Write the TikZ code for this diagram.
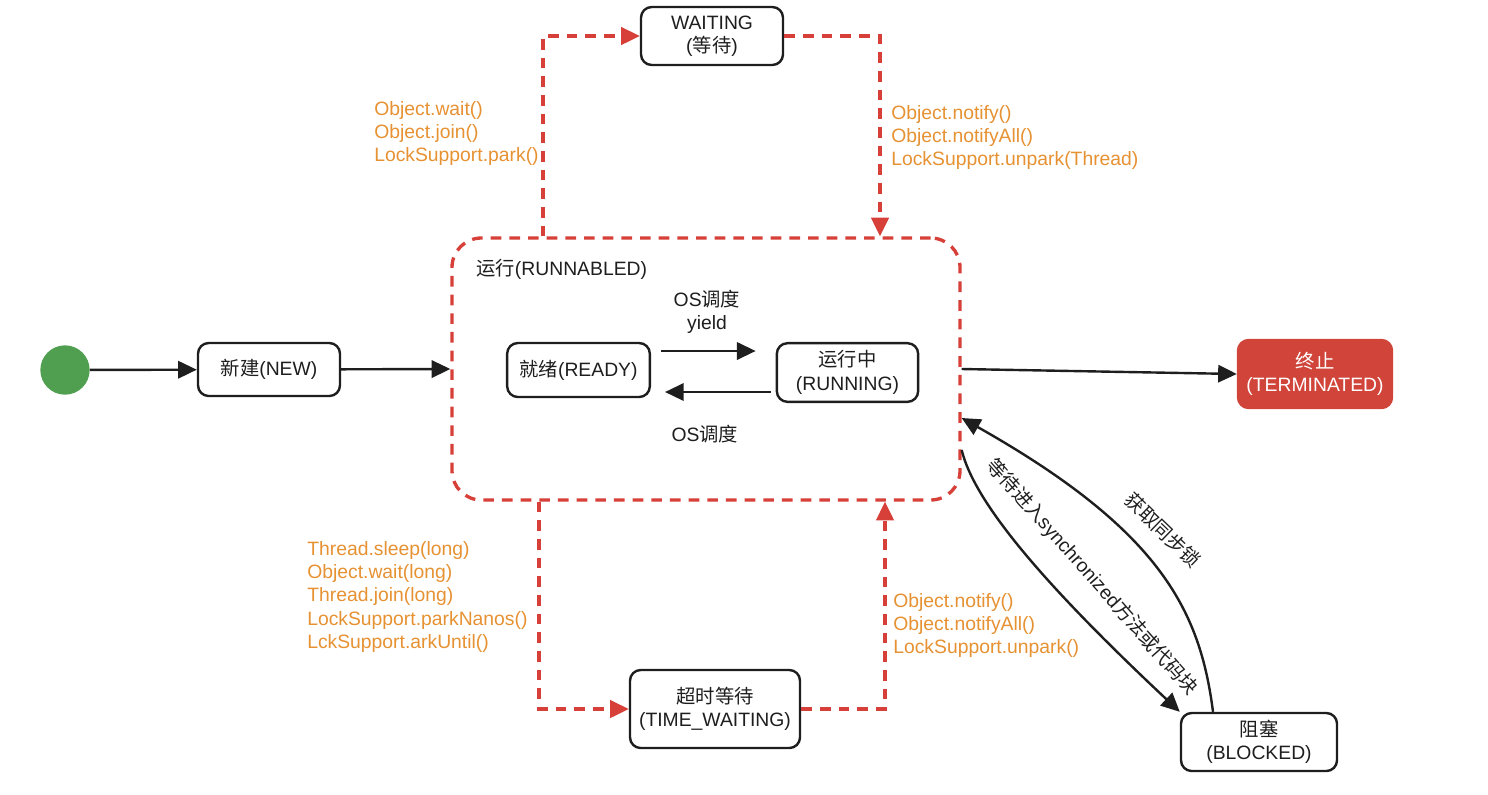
\documentclass[tikz,border=0pt]{standalone}
\usepackage{fontspec}
\setmainfont{Liberation Sans}
\newfontfamily\cjk{Noto Sans CJK SC}
\newcommand\zh[1]{{\cjk #1}}
\usetikzlibrary{arrows.meta,calc}
\definecolor{jred}{RGB}{214,64,56}
\definecolor{jorange}{RGB}{230,145,50}
\definecolor{jgreen}{RGB}{80,158,80}
\definecolor{jterm}{RGB}{208,68,58}
\definecolor{jink}{RGB}{30,30,30}
\begin{document}
\begin{tikzpicture}[x=0.75pt,y=-0.75pt,
  every node/.style={font=\fontsize{14.5}{17.5}\selectfont, text=jink},
  state/.style={draw=jink, line width=1.8pt, rounded corners=8pt, align=center, inner sep=0pt},
  arr/.style={line width=1.8pt, draw=jink, -{Triangle[length=14pt,width=13pt]}},
  redarr/.style={line width=2.5pt, draw=jred, dash pattern=on 8pt off 6pt, -{Triangle[length=14pt,width=13pt,fill=jred]}},
  codelbl/.style={text=jorange, align=left, anchor=north west, inner sep=0pt},
  lbl/.style={align=center, inner sep=0pt}]
\useasboundingbox (0,0) rectangle (1488,794);

\node[circle, fill=jgreen, minimum size=37pt, inner sep=0pt] (start) at (65,370) {};
\node[state, minimum width=106.5pt, minimum height=39.75pt] (new) at (269,369.5) {\zh{新建}(NEW)};
\node[draw=jred, dash pattern=on 8pt off 6pt, line width=2.5pt, rounded corners=22pt,
      minimum width=381pt, minimum height=196.5pt, inner sep=0pt] (run) at (706,369) {};
\node[anchor=west, inner sep=0pt] (runlbl) at (476,269) {\zh{运行}(RUNNABLED)};
\node[state, minimum width=107pt, minimum height=40.5pt] (ready) at (578.5,370) {\zh{就绪}(READY)};
\node[state, minimum width=106pt, minimum height=44pt] (running) at (847.5,372.5) {\zh{运行中}\\(RUNNING)};
\node[state, fill=jterm, draw=jterm, text=white, minimum width=115.5pt, minimum height=51pt] (term) at (1315,374) {\zh{终止}\\(TERMINATED)};
\node[state, minimum width=106.5pt, minimum height=43.5pt] (wait) at (712,36) {WAITING\\(\zh{等待})};
\node[state, minimum width=127.5pt, minimum height=58.5pt] (tw) at (715,709) {\zh{超时等待}\\(TIME\_WAITING)};
\node[state, minimum width=117pt, minimum height=43.5pt] (blocked) at (1259,742) {\zh{阻塞}\\(BLOCKED)};

\node[lbl] (l1) at (707,312) {OS\zh{调度}\\yield};
\node[lbl] (l2) at (705,434) {OS\zh{调度}};

\node[codelbl] (c1) at (374,101) {Object.wait()\\Object.join()\\LockSupport.park()};
\node[codelbl] (c2) at (891,105) {Object.notify()\\Object.notifyAll()\\LockSupport.unpark(Thread)};
\node[codelbl] (c3) at (307,541) {Thread.sleep(long)\\Object.wait(long)\\Thread.join(long)\\LockSupport.parkNanos()\\LckSupport.arkUntil()};
\node[codelbl] (c4) at (893,593) {Object.notify()\\Object.notifyAll()\\LockSupport.unpark()};

\node[lbl, rotate=-48.5] (syncl) at (1092,577) {\zh{等待进入}synchronized\zh{方法或代码块}};
\node[lbl, rotate=-44] (lockl) at (1163,530) {\zh{获取同步锁}};

\draw[arr] (start) -- (new);
\draw[arr] (new) -- (run.west);
\draw[arr] ($(ready.east)+(10,-19)$) -- ($(running.west)+(-20,-21.5)$);
\draw[arr] ($(running.west)+(-5,19.5)$) -- ($(ready.east)+(14,22)$);
\draw[arr] (run.east) -- (term.west);
\draw[redarr] (run.north -| 543,0) |- (wait.west);
\draw[redarr] (wait.east) -| (run.north -| 880,0);
\draw[redarr] (run.south -| 539,0) |- (tw.west);
\draw[redarr] (tw.east) -| (run.south -| 885,0);
\draw[arr] (run.east |- 0,450) .. controls (975,505) and (1050,590) .. (blocked.north west);
\draw[arr] (blocked.north -| 1213,0) .. controls (1200,610) and (1160,530) .. (run.east |- 0,418);
\end{tikzpicture}
\end{document}
